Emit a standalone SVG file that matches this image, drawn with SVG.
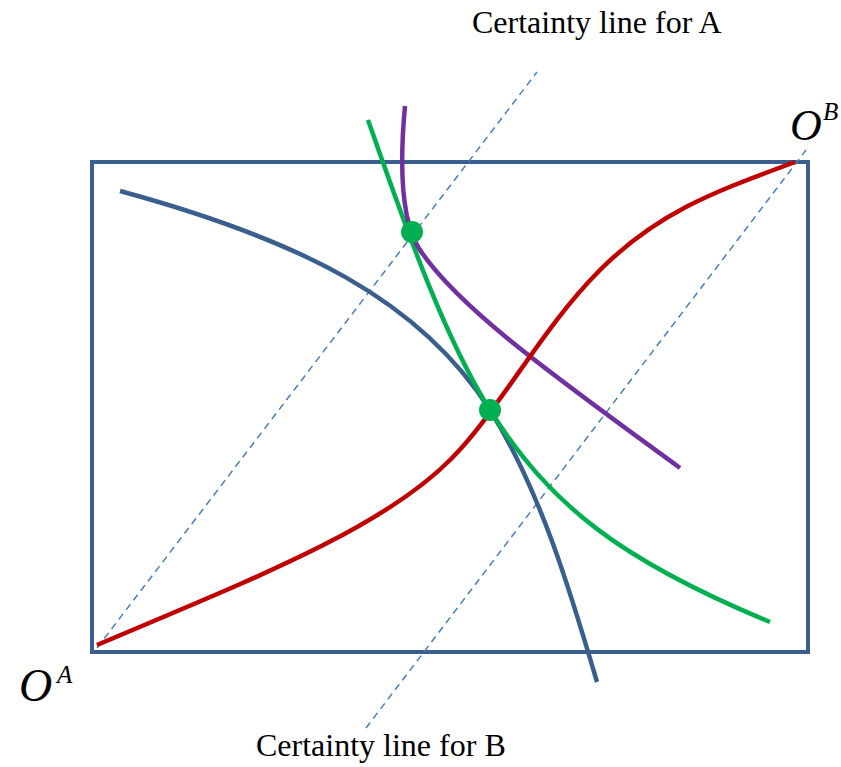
<svg xmlns="http://www.w3.org/2000/svg" width="841" height="767" viewBox="0 0 841 767">
<style>
.lbl{font-family:"Liberation Serif","Times New Roman",serif;font-size:32px;fill:#000}
.o{font-family:"Liberation Serif","Times New Roman",serif;font-style:italic;fill:#000}
.cur{fill:none;stroke-width:4.5;stroke-linecap:butt}
.dash{fill:none;stroke:#4a7ebb;stroke-width:1.5;stroke-dasharray:7,5}
</style>
<rect width="841" height="767" fill="#fff"/>
<g id="box"><rect x="92" y="162" width="716" height="490" fill="none" stroke="#3a5f8f" stroke-width="4"/></g>
<g id="connectors">
<line class="dash" x1="97" y1="648" x2="537" y2="72"/>
<line class="dash" x1="366" y1="728" x2="806" y2="150"/>
<path class="cur" stroke="#3a5f8f" d="M120,191 C300,240 420,300 490,410 C540,490 570,590 597,682"/>
<path class="cur" stroke="#00b050" d="M368,120 C400,210 440,330 490,410 C550,505 620,560 770,622"/>
<path class="cur" stroke="#7030a0" d="M405,106 C400,160 400,220 420,250 C460,310 560,380 680,468"/>
<path class="cur" stroke="#c00000" d="M97,645 C250,580 380,530 450,460 C500,410 540,330 600,270 C660,210 720,190 795,162"/>
</g>
<g id="dots" fill="#00b050">
<circle cx="412" cy="232" r="11"/>
<circle cx="490" cy="410" r="11"/>
</g>
<g id="labels">
<text class="lbl" x="472" y="33">Certainty line for A</text>
<text class="lbl" x="256" y="756">Certainty line for B</text>
<text class="o" x="790" y="140" font-size="44">O</text>
<text class="o" x="823" y="120" font-size="25">B</text>
<text class="o" x="19" y="701" font-size="46">O</text>
<text class="o" x="57" y="683" font-size="25">A</text>
</g>
</svg>
